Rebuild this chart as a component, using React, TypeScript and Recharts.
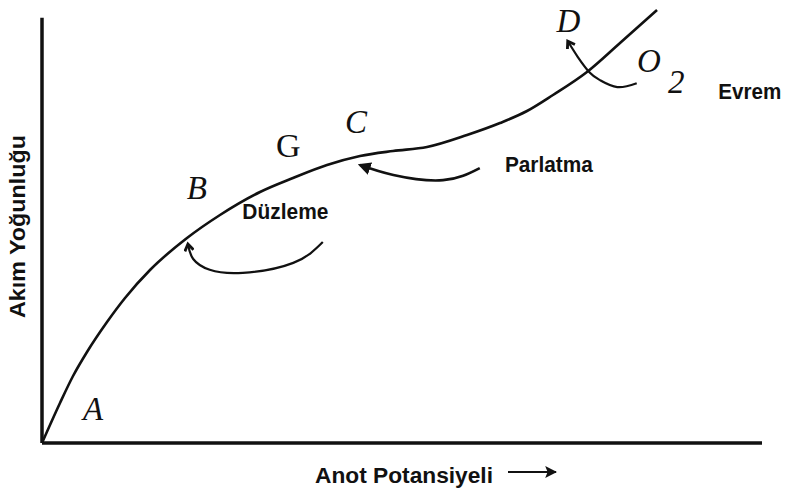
// @ts-nocheck
import React from "react";
import { LineChart, Line, XAxis, YAxis, ReferenceLine, ReferenceDot, Customized } from "recharts";

// anodic polarisation curve (x: potential, y: current density)
const curveX = [0, 2.5, 4.31, 6.25, 9.03, 11.53, 15.0, 20.14, 24.72, 30.28, 34.86, 39.58, 44.17, 48.75, 53.47, 59.03, 63.61, 67.36, 70.97, 75.69, 80.28, 85.42];
const curveY = [0, 9.24, 15.47, 21.02, 27.94, 33.49, 39.95, 47.34, 52.66, 57.97, 61.2, 64.2, 66.28, 67.44, 68.36, 71.13, 73.9, 76.67, 80.37, 85.68, 92.38, 100];

// annotation arrows
const duzlemeX = [39.0, 34.9, 27.9, 23.3, 21.0, 20.3];
const duzlemeY = [46.4, 41.6, 39.3, 40.0, 42.5, 45.7];
const parlatmaX = [60.8, 55.7, 48.8, 44.2];
const parlatmaY = [63.5, 60.7, 61.9, 64.2];
const evremX = [82.6, 79.9, 77.5, 76.1, 74.4, 73.1];
const evremY = [83.1, 82.2, 83.8, 85.5, 89.2, 92.6];

// point letters (serif) and region names (sans)
const letters = [
  { t: "A", x: 7.1, y: 5.3, italic: true },
  { t: "B", x: 21.5, y: 56.4, italic: true },
  { t: "G", x: 34.2, y: 66.1, italic: false },
  { t: "C", x: 43.6, y: 71.6, italic: true },
  { t: "D", x: 73.1, y: 94.9, italic: true },
  { t: "O", x: 84.3, y: 85.7, italic: true },
  { t: "2", x: 88.1, y: 80.8, italic: true },
];
const regions = [
  { t: "Düzleme", x: 33.8, y: 51.7, w: 86 },
  { t: "Parlatma", x: 70.4, y: 62.6, w: 88 },
  { t: "Evrem", x: 98.3, y: 79.4, w: 63 },
];

const zip = (xs, ys) => xs.map((x, i) => ({ x, y: ys[i] }));

const INK = "#111";
const SANS = "'Liberation Sans', Arial, sans-serif";
const SERIF = "'Liberation Serif', 'Times New Roman', serif";

const Defs = () => (
  <defs>
    <marker id="headOpen" viewBox="0 0 10 10" refX="6" refY="5" markerWidth="11" markerHeight="11" markerUnits="userSpaceOnUse" orient="auto">
      <path d="M1,1 L7,5 L1,9" fill="none" stroke={INK} strokeWidth="2.6" />
    </marker>
    <marker id="headFill" viewBox="0 0 10 10" refX="8" refY="5" markerWidth="13" markerHeight="13" markerUnits="userSpaceOnUse" orient="auto">
      <path d="M0,0 L10,5 L0,10 Z" fill={INK} />
    </marker>
    <marker id="headAxis" viewBox="0 0 10 10" refX="9" refY="5" markerWidth="12" markerHeight="12" markerUnits="userSpaceOnUse" orient="auto">
      <path d="M0,0 L10,5 L0,10 L2,5 Z" fill={INK} />
    </marker>
  </defs>
);

export default function App() {
  return (
    <div style={{ width: 787, height: 501, background: "#fff" }}>
      <style>{`body{margin:0;}`}</style>
      <LineChart width={787} height={501} margin={{ top: 10, right: 25, bottom: 0, left: 0 }}>
        <Customized component={Defs} />
        <XAxis
          type="number"
          dataKey="x"
          domain={[0, 100]}
          height={58}
          tick={false}
          tickLine={false}
          axisLine={{ stroke: INK, strokeWidth: 3.5 }}
          label={{
            content: ({ viewBox }) => (
              <g>
                <text x={viewBox.x + 362} y={viewBox.y + 40} textAnchor="middle" fontFamily={SANS} fontWeight="bold" fontSize={22} fill={INK} textLength={178} lengthAdjust="spacingAndGlyphs">
                  Anot Potansiyeli
                </text>
                <line x1={viewBox.x + 466} y1={viewBox.y + 29} x2={viewBox.x + 514} y2={viewBox.y + 29} stroke={INK} strokeWidth={2} markerEnd="url(#headAxis)" />
              </g>
            ),
          }}
        />
        <YAxis
          type="number"
          dataKey="y"
          domain={[0, 100]}
          width={42}
          tick={false}
          tickLine={false}
          axisLine={false}
          label={{
            content: ({ viewBox }) => (
              <text x={25} y={viewBox.y + viewBox.height / 2} transform={`rotate(-90, 25, ${viewBox.y + viewBox.height / 2})`} textAnchor="middle" fontFamily={SANS} fontWeight="bold" fontSize={22} fill={INK} textLength={183} lengthAdjust="spacingAndGlyphs">
                Akım Yoğunluğu
              </text>
            ),
          }}
        />
        <ReferenceLine segment={[{ x: 0, y: 0 }, { x: 0, y: 98.2 }]} stroke={INK} strokeWidth={3.5} />
        <Line data={zip(curveX, curveY)} dataKey="y" type="monotone" stroke={INK} strokeWidth={2.6} dot={false} activeDot={false} isAnimationActive={false} />
        <Line data={zip(duzlemeX, duzlemeY)} dataKey="y" type="natural" stroke={INK} strokeWidth={2.2} dot={false} activeDot={false} isAnimationActive={false} markerEnd="url(#headOpen)" />
        <Line data={zip(parlatmaX, parlatmaY)} dataKey="y" type="natural" stroke={INK} strokeWidth={2.6} dot={false} activeDot={false} isAnimationActive={false} markerEnd="url(#headFill)" />
        <Line data={zip(evremX, evremY)} dataKey="y" type="natural" stroke={INK} strokeWidth={2.2} dot={false} activeDot={false} isAnimationActive={false} markerEnd="url(#headOpen)" />
        {letters.map((l) => (
          <ReferenceDot
            key={l.t}
            x={l.x}
            y={l.y}
            r={0}
            shape={(p) => (
              <text x={p.cx} y={p.cy} textAnchor="middle" fontFamily={SERIF} fontStyle={l.italic ? "italic" : "normal"} fontSize={l.t === "G" ? 34 : 33} fill={INK}>
                {l.t}
              </text>
            )}
          />
        ))}
        {regions.map((r) => (
          <ReferenceDot
            key={r.t}
            x={r.x}
            y={r.y}
            r={0}
            shape={(p) => (
              <text x={p.cx} y={p.cy} textAnchor="middle" fontFamily={SANS} fontWeight="bold" fontSize={22} fill={INK} textLength={r.w} lengthAdjust="spacingAndGlyphs">
                {r.t}
              </text>
            )}
          />
        ))}
      </LineChart>
    </div>
  );
}
